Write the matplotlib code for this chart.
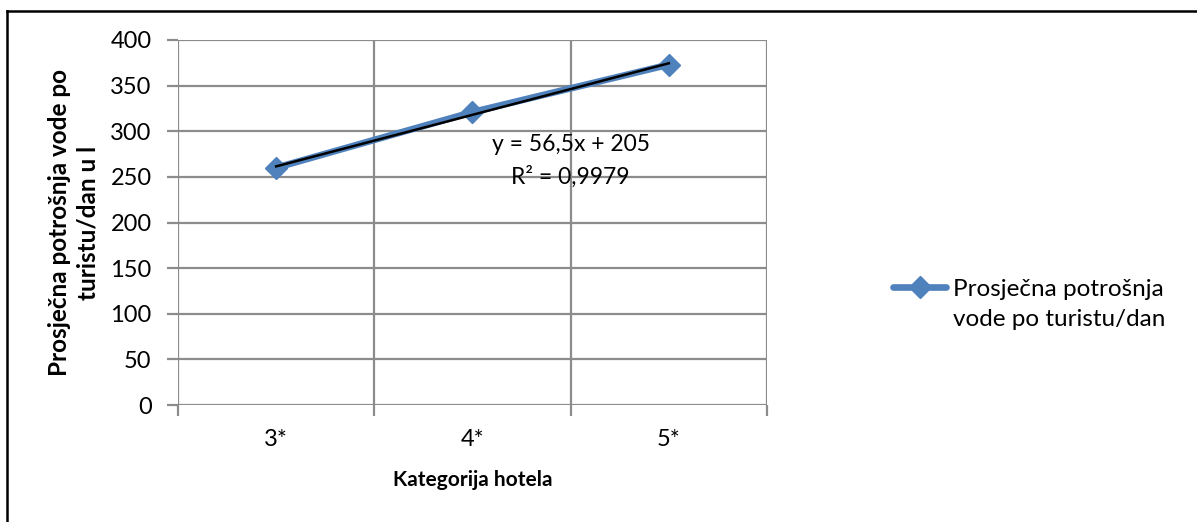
import numpy as np
import matplotlib.pyplot as plt
from matplotlib.lines import Line2D

# Hotel categories and average water use per tourist per day (litres)
categories = ['3*', '4*', '5*']
consumption = [260, 321, 373]
series_label = ['Prosječna potrošnja', 'vode po turistu/dan']
y_ticks = [0, 50, 100, 150, 200, 250, 300, 350, 400]

plt.rcParams['font.family'] = ['Lato', 'DejaVu Sans']

W, H = 1197, 522
fig = plt.figure(figsize=(W / 100, H / 100), dpi=100)
ax = fig.add_axes([178 / W, 1 - 405 / H, 589 / W, 365 / H])

x = np.arange(len(categories))
blue = '#4F81BD'

# linear trendline (x counted from 1, as in spreadsheet)
xs = x + 1
slope, intercept = np.polyfit(xs, consumption, 1)
fit = slope * xs + intercept
ss_res = np.sum((np.array(consumption) - fit) ** 2)
ss_tot = np.sum((np.array(consumption) - np.mean(consumption)) ** 2)
r2 = 1 - ss_res / ss_tot

ax.plot(x, consumption, color=blue, lw=4.8, marker='D', ms=11,
        markeredgecolor=blue, solid_capstyle='round', zorder=3)
ax.plot(x, fit, color='black', lw=1.8, zorder=4)

def fmt(v, nd):
    return f'{v:.{nd}f}'.rstrip('0').rstrip('.').replace('.', ',')

ax.text(1.5, 285, f'y = {fmt(slope, 1)}x + {fmt(intercept, 1)}',
        ha='center', va='center', fontsize=16.5, zorder=5)
ax.text(1.5, 250, f'R² = {r2:.4f}'.replace('.', ','),
        ha='center', va='center', fontsize=16.5, zorder=5)

ax.set_xlim(-0.5, 2.5)
ax.set_ylim(0, 400)
ax.set_yticks(y_ticks)
ax.set_xticks(x)
ax.set_xticklabels(categories)
ax.set_xticks([-0.5, 0.5, 1.5, 2.5], minor=True)

grid_c = '#8C8C8C'
for v in y_ticks:
    ax.axhline(v, color=grid_c, lw=1.6, zorder=1)
for v in [-0.5, 0.5, 1.5, 2.5]:
    ax.axvline(v, color=grid_c, lw=1.6, zorder=1)
for s in ax.spines.values():
    s.set_visible(False)

ax.tick_params(axis='y', length=8, width=1.6, color=grid_c, labelsize=17, pad=11)
ax.tick_params(axis='x', which='major', length=0, labelsize=17, pad=17)
ax.tick_params(axis='x', which='minor', length=8, width=1.6, color=grid_c)

ax.set_xlabel('Kategorija hotela', fontsize=15, fontweight='bold')
ax.xaxis.set_label_coords(0.5, 1 - (480 - 40) / 365)
ax.xaxis.label.set_va('center')
ax.set_ylabel('Prosječna potrošnja vode po\nturistu/dan u l', fontsize=17.5,
              fontweight='bold', linespacing=1.3)
ax.yaxis.set_label_coords((73.5 - 178) / 589, 0.5)
ax.yaxis.label.set_va('center')

handle = Line2D([], [], color=blue, lw=4.8, marker='D', ms=11,
                markeredgecolor=blue, solid_capstyle='round')
leg = fig.legend([handle], [series_label[0]], loc='center left',
                 bbox_to_anchor=(893 / W, 1 - 289 / H), frameon=False,
                 fontsize=17.5, handlelength=2.2, handletextpad=0.25,
                 borderpad=0, borderaxespad=0)

# second line of the series name, under the first legend line
fig.canvas.draw()
bb = leg.get_texts()[0].get_window_extent()
fig.text(bb.x0 / W, 1 - 320 / H, series_label[1], fontsize=17.5,
         ha='left', va='center')

# outer chart frame
fig.add_artist(plt.Line2D([6.5 / W, 6.5 / W], [0, 1 - 10.5 / H],
                          color='black', lw=1.8, transform=fig.transFigure))
fig.add_artist(plt.Line2D([6.5 / W, 1], [1 - 10.5 / H, 1 - 10.5 / H],
                          color='black', lw=1.8, transform=fig.transFigure))

fig.savefig('out.png', dpi=100)
